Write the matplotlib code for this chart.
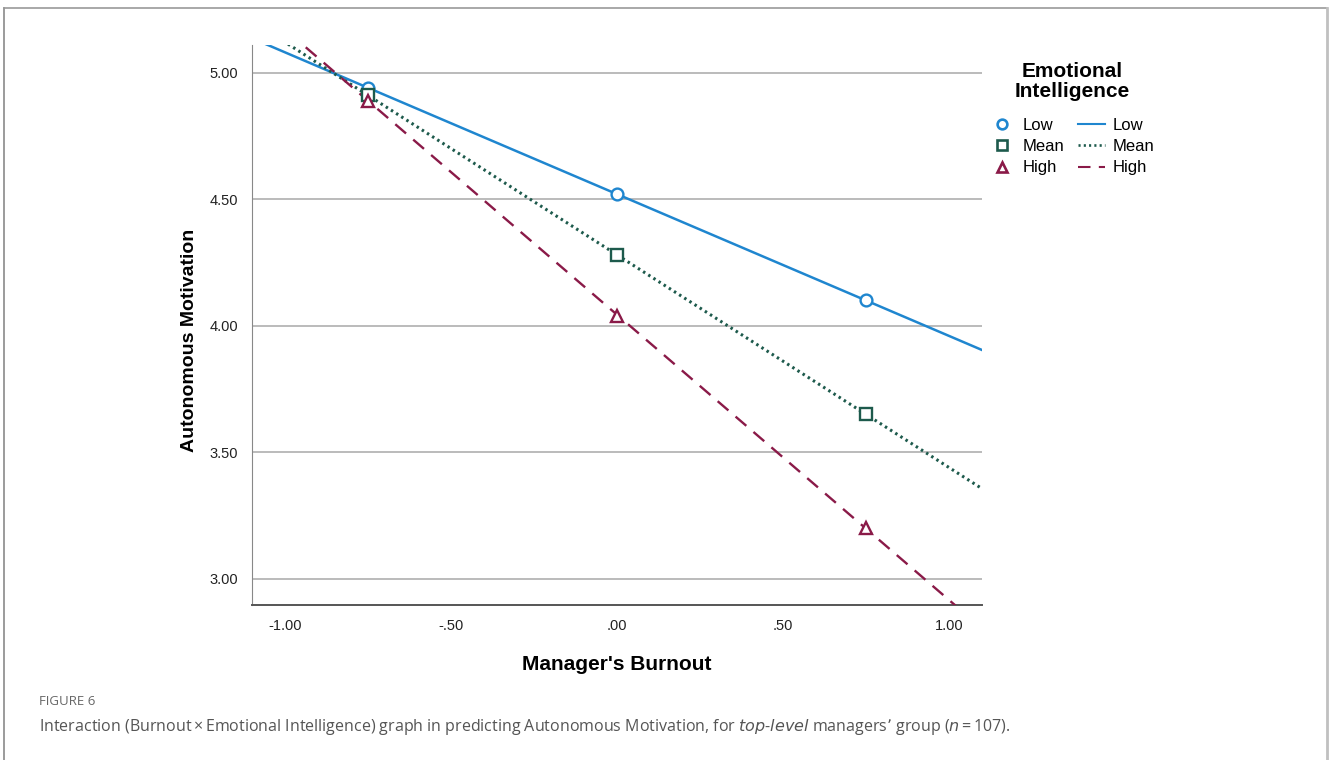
"""Interaction plot: Burnout x Emotional Intelligence on Autonomous Motivation"""

import numpy as np
from matplotlib import pyplot as plt
from matplotlib.lines import Line2D

plt.rcParams['font.family'] = ['Liberation Sans Narrow', 'Liberation Sans', 'DejaVu Sans']

burnout = [-0.75, 0.00, 0.75]
groups = ['Low', 'Mean', 'High']
motivation = {
    'Low': [4.94, 4.52, 4.10],
    'Mean': [4.91, 4.28, 3.65],
    'High': [4.89, 4.04, 3.20],
}
colors = {'Low': '#1f86cf', 'Mean': '#1d5a4c', 'High': '#8a1a48'}
markers = {'Low': 'o', 'Mean': 's', 'High': '^'}
styles = {'Low': '-', 'Mean': (0, (0.8, 1.2)), 'High': (0, (6, 4))}
widths = {'Low': 1.8, 'Mean': 2.2, 'High': 1.7}

x_ticks = [-1.0, -0.5, 0.0, 0.5, 1.0]
x_tick_labels = ['-1.00', '-.50', '.00', '.50', '1.00']
y_ticks = [3.0, 3.5, 4.0, 4.5, 5.0]
y_tick_labels = ['3.00', '3.50', '4.00', '4.50', '5.00']

if __name__ == "__main__":
    fig = plt.figure(figsize=(13.3, 7.6), dpi=100)
    ax = fig.add_axes([0.1895, 0.204, 0.549, 0.737])
    xlim = (-1.1, 1.1)

    for g in groups:
        slope, icpt = np.polyfit(burnout, motivation[g], 1)
        xs = np.array(xlim)
        ax.plot(xs, icpt + slope * xs, color=colors[g], linestyle=styles[g],
                linewidth=widths[g], zorder=3)
        ax.plot(burnout, motivation[g], linestyle='none', marker=markers[g],
                markersize=8.5, markerfacecolor='white', markeredgecolor=colors[g],
                markeredgewidth=1.7, zorder=4)

    ax.set_xlim(*xlim)
    ax.set_ylim(2.897, 5.11)
    ax.set_xticks(x_ticks, x_tick_labels, fontsize=10.5)
    ax.set_yticks(y_ticks, y_tick_labels, fontsize=10.5)
    ax.tick_params(length=0, pad=10, colors='#222222')
    ax.yaxis.grid(True, color='#a8a8a8', linewidth=1.1)
    ax.set_axisbelow(True)
    for s in ('top', 'right'):
        ax.spines[s].set_visible(False)
    ax.spines['left'].set_color('#888888')
    ax.spines['bottom'].set_color('#555555')
    ax.spines['bottom'].set_linewidth(1.4)

    ax.set_xlabel("Manager's Burnout", fontsize=15, fontweight='bold', labelpad=16)
    ax.set_ylabel('Autonomous Motivation', fontsize=14, fontweight='bold')
    ax.yaxis.set_label_coords(-0.074, 0.473)

    handles = [Line2D([], [], linestyle='none', marker=markers[g], markersize=7,
                      markerfacecolor='white', markeredgecolor=colors[g],
                      markeredgewidth=1.9) for g in groups]
    handles += [Line2D([], [], color=colors[g], linestyle=styles[g],
                       linewidth=1.5 if g != 'Mean' else 1.9)
                for g in groups]
    fig.legend(handles, groups + groups, ncol=2, loc='upper left',
               bbox_to_anchor=(0.7435, 0.845), frameon=False, fontsize=12,
               borderpad=0, borderaxespad=0,
               handlelength=1.6, handletextpad=0.45, columnspacing=0.8,
               labelspacing=0.38)
    fig.text(0.806, 0.893, 'Emotional\nIntelligence', ha='center', va='center',
             fontsize=15, fontweight='bold', linespacing=1.1,
             family=['Liberation Sans', 'DejaVu Sans'])

    # page frame
    fig.add_artist(Line2D([0.003, 0.003], [0, 0.9895], color='#8a8a8a', linewidth=1.2))
    fig.add_artist(Line2D([0.003, 0.9975], [0.9895, 0.9895], color='#999999', linewidth=1.2))
    fig.add_artist(Line2D([0.9975, 0.9975], [0, 0.9895], color='#c0c0c0', linewidth=2))

    fig.text(0.029, 0.0775, 'FIGURE 6', fontsize=9.5, color='#666666',
             family=['Open Sans', 'DejaVu Sans'], va='center')
    fig.text(0.029, 0.043,
             'Interaction (Burnout\u2009\u00d7\u2009Emotional Intelligence) graph in predicting '
             'Autonomous Motivation, for $\\it{top}$-$\\it{level}$ managers\u2019 group '
             '($\\it{n}$\u2009=\u2009107).',
             fontsize=11.5, color='#555555', family=['Open Sans', 'DejaVu Sans'],
             va='center')

    plt.savefig('out.png', dpi=100)
